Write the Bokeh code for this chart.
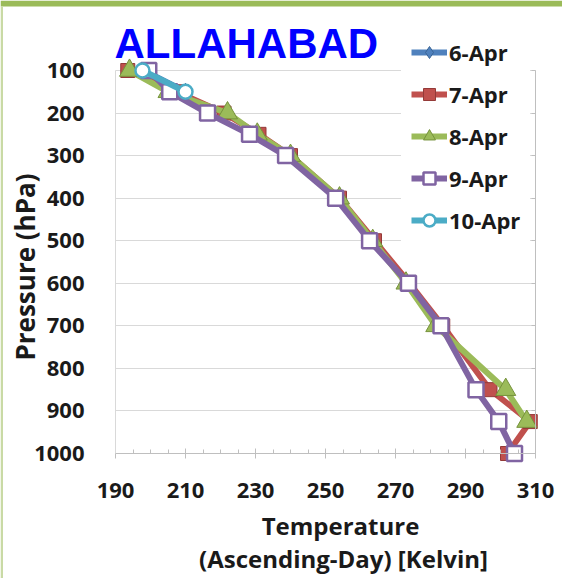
import math
from bokeh.plotting import figure
from bokeh.models import (Range1d, LinearAxis, FixedTicker, Label, Legend, LegendItem,
                          BoxAnnotation)
from bokeh.embed import file_html
from bokeh.resources import INLINE

# ---------------- data ----------------
levels = [100, 150, 200, 250, 300, 400, 500, 600, 700, 850, 925, 1000]
series_names = ["6-Apr", "7-Apr", "8-Apr", "9-Apr", "10-Apr"]

apr6_levels = [100, 150]
apr6_temp = [198.0, 210.0]

apr7_levels = levels
apr7_temp = [193.5, 207.5, 221.0, 231.0, 240.0, 254.0, 264.0, 274.0, 283.5, 297.0, 308.5, 302.0]

apr8_levels = levels[:11]
apr8_temp = [194.0, 205.0, 222.0, 230.5, 240.0, 254.0, 263.5, 273.0, 281.5, 301.5, 307.5]

apr9_levels = levels
apr9_temp = [199.5, 205.5, 216.3, 228.3, 238.6, 252.9, 262.6, 273.7, 283.0, 293.0, 299.5, 304.0]

apr10_levels = [100, 150]
apr10_temp = [197.7, 210.0]

x_ticks = [190, 210, 230, 250, 270, 290, 310]
y_ticks = [100, 200, 300, 400, 500, 600, 700, 800, 900, 1000]

# ---------------- layout helpers (canvas pixels -> data) ----------------
W, H = 562, 578
PXK = 3.5                 # px per Kelvin
PXH = 383.0 / 900.0       # px per hPa
def dx(px):
    return 190 + (px - 115) / PXK
def dy(py):
    return 100 + (py - 70) / PXH

p = figure(width=W, height=H, output_backend="svg", toolbar_location=None,
           x_range=Range1d(dx(0), dx(W)), y_range=Range1d(dy(H), dy(0)),
           min_border_left=0, min_border_right=0, min_border_top=0, min_border_bottom=0,
           background_fill_color="white", border_fill_color="white")
p.outline_line_alpha = 0

TICK_FONT = "Open Sans"
minor = [v for v in range(190, 311, 5) if v not in x_ticks]

# x axis at P=1000
xa = p.xaxis[0]
xa.ticker = FixedTicker(ticks=x_ticks, minor_ticks=minor)
xa.fixed_location = 1000
xa.bounds = (190, 310)
xa.axis_line_color = "#BFBFBF"
xa.major_tick_line_color = "#BFBFBF"
xa.minor_tick_line_color = "#BFBFBF"
xa.major_tick_in = 5
xa.major_tick_out = 5
xa.minor_tick_in = 4
xa.minor_tick_out = 0
xa.major_label_standoff = 24
xa.major_label_text_font = TICK_FONT
xa.major_label_text_font_style = "bold"
xa.major_label_text_font_size = "22px"
xa.major_label_text_color = "#1a1a1a"

# y axis at T=190
ya = p.yaxis[0]
ya.ticker = FixedTicker(ticks=y_ticks)
ya.fixed_location = 190
ya.bounds = (100, 1000)
ya.axis_line_color = "#D9D9D9"
ya.major_tick_in = 0
ya.major_tick_out = 0
ya.minor_tick_line_color = None
ya.major_label_standoff = 31
ya.major_label_text_font = TICK_FONT
ya.major_label_text_font_style = "bold"
ya.major_label_text_font_size = "22px"
ya.major_label_text_color = "#1a1a1a"

# secondary vertical axis line at T=310 with inward ticks
ra = LinearAxis(ticker=FixedTicker(ticks=y_ticks), fixed_location=310, bounds=(100, 1000),
                axis_line_color="#BFBFBF", major_tick_line_color="#BFBFBF",
                major_tick_in=0, major_tick_out=4, minor_tick_line_color=None,
                major_label_overrides={t: "" for t in y_ticks},
                major_label_text_font_size="1px", major_label_standoff=0)
p.add_layout(ra, "left")

p.xgrid.visible = False
p.ygrid.ticker = FixedTicker(ticks=y_ticks)
p.ygrid.grid_line_color = "#D9D9D9"
p.ygrid.cross_bounds = (190, 310)

# slide frame decoration (green band on top, thin line on the left)
p.add_layout(BoxAnnotation(left=dx(0), right=dx(W), top=dy(0), bottom=dy(6),
                           fill_color="#9BBB59", fill_alpha=1, line_alpha=0))
p.add_layout(BoxAnnotation(left=dx(0), right=dx(2.5), top=dy(6), bottom=dy(H),
                           fill_color="#C9DAA5", fill_alpha=1, line_alpha=0))

# ---------------- series ----------------
styles = [
    dict(x=apr6_temp, y=apr6_levels, color="#4F81BD", marker="diamond", size=17,
         fill="#4F81BD", edge="#3A6596", lw=1),
    dict(x=apr7_temp, y=apr7_levels, color="#C0504D", marker="square", size=14,
         fill="#C0504D", edge="#943A38", lw=1),
    dict(x=apr8_temp, y=apr8_levels, color="#9BBB59", marker="triangle", size=20,
         fill="#9BBB59", edge="#76923C", lw=1),
    dict(x=apr9_temp, y=apr9_levels, color="#8064A2", marker="square", size=15,
         fill="white", edge="#8064A2", lw=2.5),
    dict(x=apr10_temp, y=apr10_levels, color="#4BACC6", marker="circle", size=14,
         fill="white", edge="#4BACC6", lw=2.5),
]

items = []
for name, s in zip(series_names, styles):
    lr = p.line(s["x"], s["y"], line_color=s["color"], line_width=6, line_join="round")
    sr = p.scatter(s["x"], s["y"], marker=s["marker"], size=s["size"],
                   fill_color=s["fill"], line_color=s["edge"], line_width=s["lw"])
    items.append(LegendItem(label=name, renderers=[lr, sr]))

legend = Legend(items=items, location=(401, 333), orientation="vertical",
                glyph_width=36, glyph_height=30, label_height=30, spacing=12,
                padding=10, label_standoff=2, margin=0,
                label_text_font="Open Sans", label_text_font_style="bold",
                label_text_font_size="22px", label_text_color="#1a1a1a",
                border_line_alpha=0, background_fill_color="white",
                background_fill_alpha=1)
p.add_layout(legend)

# ---------------- texts ----------------
p.add_layout(Label(x=dx(114), y=dy(43), text="ALLAHABAD", text_color="#0000FF",
                   text_font="Liberation Sans", text_font_style="bold",
                   text_font_size="42px", text_align="left", text_baseline="alphabetic"))
p.add_layout(Label(x=dx(24.5), y=dy(266.5), text="Pressure (hPa)", angle=math.pi / 2,
                   text_color="#1a1a1a", text_font="Open Sans", text_font_style="bold",
                   text_font_size="26px", text_align="center", text_baseline="middle"))
p.add_layout(Label(x=dx(340), y=dy(525), text="Temperature",
                   text_color="#1a1a1a", text_font="Open Sans", text_font_style="bold",
                   text_font_size="24px", text_align="center", text_baseline="alphabetic"))
p.add_layout(Label(x=dx(343), y=dy(558), text="(Ascending-Day) [Kelvin]",
                   text_color="#1a1a1a", text_font="Open Sans", text_font_style="bold",
                   text_font_size="24px", text_align="center", text_baseline="alphabetic"))

open("out.html", "w").write(file_html(p, INLINE))
